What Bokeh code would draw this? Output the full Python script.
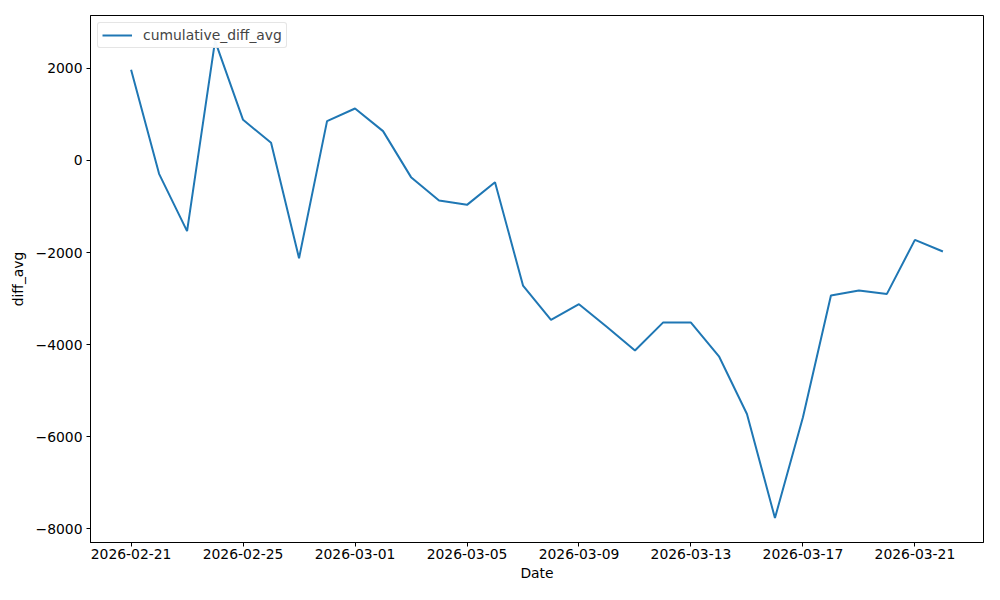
from datetime import datetime, timedelta
from bokeh.plotting import figure
from bokeh.models import FixedTicker, DatetimeTickFormatter, Range1d, Legend, LegendItem
from bokeh.embed import file_html
from bokeh.resources import INLINE

start = datetime(2026, 2, 21)
dates = [start + timedelta(days=i) for i in range(30)]
values = [1970, -290, -1536, 2600, 884, 384, -2123, 855, 1130, 638,
          -362, -870, -964, -471, -2717, -3464, -3123, -3620, -4130, -3522,
          -3522, -4254, -5507, -7768, -5580, -2935, -2826, -2899, -1725, -1978]
y_ticks = [-8000, -6000, -4000, -2000, 0, 2000]
x_tick_dates = [start + timedelta(days=4 * i) for i in range(8)]

FONT = "DejaVu Sans"
FS = "13.9px"

x0 = start - timedelta(days=1.45)
x1 = dates[-1] + timedelta(days=1.45)

p = figure(width=984, height=584, x_axis_type="datetime", output_backend="svg",
           toolbar_location=None, x_range=Range1d(x0, x1), y_range=Range1d(-8300, 3150),
           min_border_left=90, min_border_top=15, min_border_right=1, min_border_bottom=42)
p.background_fill_color = "white"
p.border_fill_color = "white"
p.outline_line_color = "black"
p.outline_line_width = 1
p.xgrid.visible = False
p.ygrid.visible = False

r = p.line(dates, values, line_color="#1f77b4", line_width=2)

ms = [(d - datetime(1970, 1, 1)).total_seconds() * 1000 for d in x_tick_dates]
p.xaxis.ticker = FixedTicker(ticks=ms)
fmt = "%Y-%m-%d"
p.xaxis.formatter = DatetimeTickFormatter(days=fmt, months=fmt, years=fmt, hours=fmt,
                                          hourmin=fmt, minutes=fmt, minsec=fmt,
                                          seconds=fmt, milliseconds=fmt, microseconds=fmt)
p.yaxis.ticker = FixedTicker(ticks=y_ticks)
p.yaxis.major_label_overrides = {t: str(t).replace("-", "\u2212") for t in y_ticks}

for ax in (p.xaxis, p.yaxis):
    ax.major_tick_in = 0
    ax.major_tick_out = 4
    ax.minor_tick_in = 0
    ax.minor_tick_out = 0
    ax.axis_line_color = "black"
    ax.major_tick_line_color = "black"
    ax.major_label_text_font = FONT
    ax.major_label_text_font_size = FS
    ax.major_label_text_color = "black"
    ax.axis_label_text_font = FONT
    ax.axis_label_text_font_size = FS
    ax.axis_label_text_font_style = "normal"
    ax.axis_label_text_color = "black"
p.xaxis.axis_label = "Date"
p.yaxis.axis_label = "diff_avg"
p.xaxis.major_label_standoff = 2
p.yaxis.major_label_standoff = 4
p.xaxis.axis_label_standoff = 3
p.yaxis.axis_label_standoff = 7

legend = Legend(items=[LegendItem(label="cumulative_diff_avg", renderers=[r])],
                location="top_left")
legend.label_text_font = FONT
legend.label_text_font_size = FS
legend.border_line_color = "#cccccc"
legend.border_line_width = 1
legend.border_radius = 3
legend.margin = 7
legend.padding = 4
legend.glyph_width = 30
legend.glyph_height = 16
legend.label_standoff = 11
legend.spacing = 0
p.add_layout(legend)

open("out.html", "w").write(file_html(p, INLINE))
